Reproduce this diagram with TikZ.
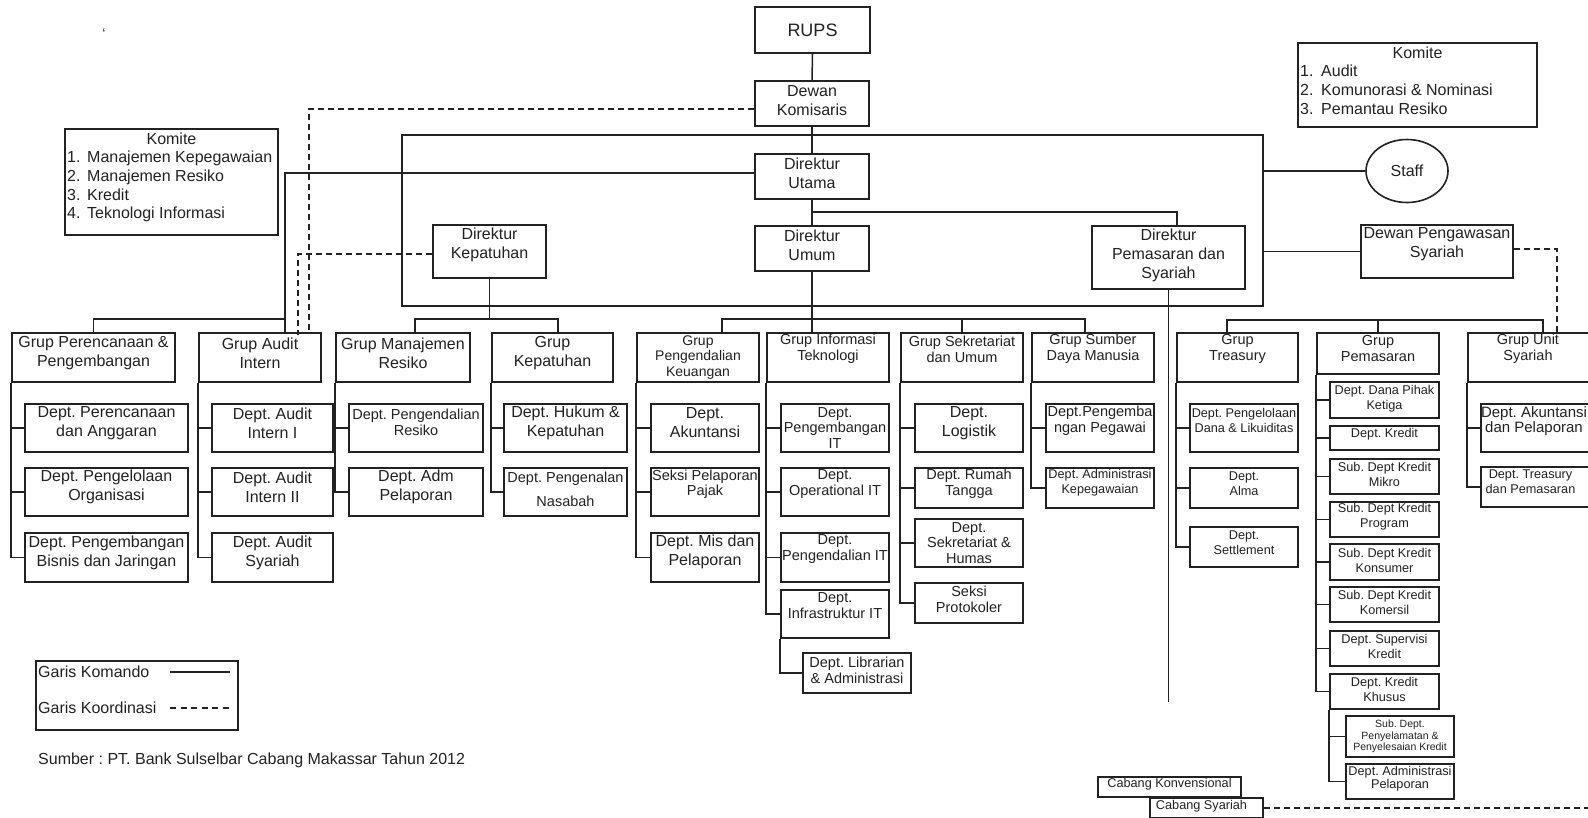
\documentclass[tikz,border=0pt]{standalone}
\usepackage{fontspec}
\setmainfont{Liberation Sans}
\usetikzlibrary{shapes.geometric}
\definecolor{ink}{HTML}{222222}
\newcommand\fsz[2]{\fontsize{#1}{#2}\selectfont}
\frenchspacing
\tikzset{
 box/.style={draw=ink, line width=1.6pt, inner sep=0pt, rectangle},
 txt/.style={align=center, inner sep=0pt, text=ink, font=\fsz{16}{19}},
 cn/.style={draw=ink, line width=1.5pt},
 co/.style={draw=ink, line width=1.5pt, dash pattern=on 6pt off 4pt},
 sm/.style={font=\fsz{14.5}{16}},
 xs/.style={font=\fsz{12.7}{15}},
 up/.style={yshift=#1pt},
}
\newcommand\bx[7][]{%
  \node[box, minimum width={(#5-#3)*1pt}, minimum height={(#6-#4)*1pt}] (#2) at ({(#3+#5)/2},{(#4+#6)/2}) {};
  \node[txt,#1] at (#2.center) {#7};
}
\begin{document}
\begin{tikzpicture}[x=1pt,y=-1pt]
\useasboundingbox (0,0) rectangle (1588,817);
\fill[white] (0,0) rectangle (1588,817);
\clip (0,0) rectangle (1588,817);

% helper coordinates
\coordinate (hbus) at (0,319);
\coordinate (hbr) at (0,320);
\coordinate (h212) at (0,212);
\coordinate (pend) at (0,702);
\coordinate (vA) at (285,0);
\coordinate (vB) at (309,0);
\coordinate (vC) at (298,0);
\coordinate (vD) at (1557,0);
\coordinate (rend) at (1588,0);

% top
\bx[font=\fsz{18}{21}]{rups}{755}{7}{870}{53}{RUPS}
\bx[up=3]{kom}{755}{81}{869}{126}{Dewan\\Komisaris}
\bx{frame}{402}{135}{1263}{306}{}
\bx[up=3]{utama}{755}{154}{869}{199}{Direktur\\Utama}
\bx[up=3]{umum}{755}{226}{869}{271}{Direktur\\Umum}
\bx[up=7]{kepat}{433}{225}{546}{278}{Direktur\\Kepatuhan}
\bx[up=2]{dirpem}{1092}{226}{1245}{289}{Direktur\\Pemasaran dan\\Syariah}
\bx[up=7.5]{dps}{1361}{225}{1513}{278}{Dewan Pengawasan\\Syariah}
\node[draw=ink, line width=1.6pt, ellipse, minimum width=82pt, minimum height=63pt, txt] (staff) at (1407,171) {Staff};

% komite boxes
\bx{komL}{65}{129}{278}{235}{}
\node[txt, anchor=base] (komLt) at (171.5,144) {Komite};
\foreach \n/\t [count=\i] in {1./Manajemen Kepegawaian, 2./Manajemen Resiko, 3./Kredit, 4./Teknologi Informasi}{
  \node[txt, anchor=base west] (kln\i) at (67,{144+\i*18.7}) {\n};
  \node[txt, anchor=base west] (klt\i) at (87,{144+\i*18.7}) {\t};
}
\bx{komR}{1298}{43}{1537}{127}{}
\node[txt, anchor=base] (komRt) at (1417.5,58) {Komite};
\foreach \n/\t [count=\i] in {1./Audit, 2./{Komunorasi \& Nominasi}, 3./Pemantau Resiko}{
  \node[txt, anchor=base west] (krn\i) at (1300,{58+\i*18.7}) {\n};
  \node[txt, anchor=base west] (krt\i) at (1321,{58+\i*18.7}) {\t};
}

% groups
\bx[up=4.5]{g1}{12}{333}{175}{382}{Grup Perencanaan \&\\Pengembangan}
\bx[up=4.5]{g2}{199}{333}{321}{382}{Grup Audit\\Intern}
\bx[up=4.5]{g3}{336}{333}{470}{382}{Grup Manajemen\\Resiko}
\bx[up=4.5]{g4}{492}{333}{613}{382}{Grup\\Kepatuhan}
\bx[font=\fsz{14}{15.5}]{g5}{637}{333}{759}{382}{Grup\\Pengendalian\\Keuangan}
\bx[up=8.5,sm]{g6}{767}{333}{889}{382}{Grup Informasi\\Teknologi}
\bx[up=8.5,sm]{g7}{901}{333}{1023}{382}{Grup Sekretariat\\dan Umum}
\bx[up=8.5,sm]{g8}{1032}{333}{1154}{382}{Grup Sumber\\Daya Manusia}
\bx[up=8.5,sm]{g9}{1177}{333}{1298}{382}{Grup\\Treasury}
\bx[up=4.5,sm]{g10}{1317}{333}{1439}{374}{Grup\\Pemasaran}
\bx[up=8.5,sm,xshift=-2pt]{g11}{1468}{333}{1592}{382}{Grup Unit\\Syariah}

% departments
\bx[up=5]{d11}{25}{404}{188}{452}{Dept. Perencanaan\\dan Anggaran}
\bx[up=5]{d12}{25}{468}{188}{516}{Dept. Pengelolaan\\Organisasi}
\bx[up=4.5]{d13}{25}{533}{188}{582}{Dept. Pengembangan\\Bisnis dan Jaringan}
\bx[up=5]{d21}{212}{404}{333}{452}{Dept. Audit\\Intern I}
\bx[up=5]{d22}{212}{468}{333}{516}{Dept. Audit\\Intern II}
\bx[up=4.5]{d23}{212}{533}{333}{582}{Dept. Audit\\Syariah}
\bx[up=6,sm]{d31}{349}{404}{483}{452}{Dept. Pengendalian\\Resiko}
\bx[up=5]{d32}{349}{468}{483}{516}{Dept. Adm\\Pelaporan}
\bx[up=5]{d41}{504}{404}{627}{452}{Dept. Hukum \&\\Kepatuhan}
\bx[up=3,font=\fsz{14.5}{24}]{d42}{504}{468}{627}{516}{Dept. Pengenalan\\Nasabah}
\bx[up=5]{d51}{651}{404}{759}{452}{Dept.\\Akuntansi}
\bx[up=8,font=\fsz{14.5}{15}]{d52}{651}{468}{759}{516}{Seksi Pelaporan\\Pajak}
\bx[up=5.5]{d53}{651}{533}{759}{582}{Dept. Mis dan\\Pelaporan}
\bx[font=\fsz{14.5}{15.5}]{d61}{781}{404}{889}{452}{Dept.\\Pengembangan\\IT}
\bx[up=8,sm]{d62}{781}{468}{889}{516}{Dept.\\Operational IT}
\bx[up=8.5,sm]{d63}{781}{533}{889}{582}{Dept.\\Pengendalian IT}
\bx[up=8,sm]{d64}{781}{590}{889}{638}{Dept.\\Infrastruktur IT}
\bx[up=3,sm]{d65}{803}{653}{911}{693}{Dept. Librarian\\\& Administrasi}
\bx[up=5]{d71}{915}{404}{1023}{452}{Dept.\\Logistik}
\bx[up=4,sm]{d72}{915}{468}{1023}{508}{Dept. Rumah\\Tangga}
\bx[font=\fsz{14.5}{15.5}]{d73}{915}{519}{1023}{567}{Dept.\\Sekretariat \&\\Humas}
\bx[up=4,sm]{d74}{915}{583}{1023}{623}{Seksi\\Protokoler}
\bx[up=7,sm]{d81}{1046}{404}{1154}{452}{Dept.Pengemba\\ngan Pegawai}
\bx[up=5.5,xs]{d82}{1046}{468}{1154}{508}{Dept. Administrasi\\Kepegawaian}
\bx[up=8,xs]{d91}{1190}{404}{1298}{452}{Dept. Pengelolaan\\Dana \& Likuiditas}
\bx[up=4,xs]{d92}{1190}{468}{1298}{508}{Dept.\\Alma}
\bx[up=4,xs]{d93}{1190}{527}{1298}{567}{Dept.\\Settlement}
\bx[up=1,xs]{p1}{1330}{382}{1439}{418}{Dept. Dana Pihak\\Ketiga}
\bx[up=3.5,xs]{p2}{1330}{426}{1439}{450}{Dept. Kredit}
\bx[up=2,xs]{p3}{1330}{459}{1439}{494}{Sub. Dept Kredit\\Mikro}
\bx[up=2.5,xs]{p4}{1330}{502}{1439}{537}{Sub. Dept Kredit\\Program}
\bx[up=2,xs]{p5}{1330}{544}{1439}{580}{Sub. Dept Kredit\\Konsumer}
\bx[up=2.5,xs]{p6}{1330}{587}{1439}{622}{Sub. Dept Kredit\\Komersil}
\bx[up=2.5,xs]{p7}{1330}{631}{1439}{666}{Dept. Supervisi\\Kredit}
\bx[up=2.5,xs]{p8}{1330}{674}{1439}{709}{Dept. Kredit\\Khusus}
\bx[font=\fsz{10.5}{11.7}]{p9}{1346}{716}{1454}{757}{Sub. Dept.\\Penyelamatan \&\\Penyelesaian Kredit}
\bx[up=3,font=\fsz{12.7}{13}]{p10}{1346}{764}{1454}{799}{Dept. Administrasi\\Pelaporan}
\bx[up=6.5,xshift=-2.5pt,font=\fsz{15}{15}]{u1}{1481}{404}{1592}{452}{Dept. Akuntansi\\dan Pelaporan}
\bx[up=5.5,xs,xshift=-6pt]{u2}{1481}{467}{1592}{507}{Dept. Treasury\\dan Pemasaran}

% cabang
\bx[up=3,xs]{cb1}{1098}{777}{1241}{797}{Cabang Konvensional}
\bx[up=2,xs,xshift=-5pt]{cb2}{1150}{798}{1263}{818}{Cabang Syariah}

% command lines (top)
\draw[cn] (rups.south) -- (kom.north);
\draw[cn] (kom.south) -- (utama.north);
\draw[cn] (utama.south) -- (umum.north);
\draw[cn] (utama.south |- h212) -| ([xshift=8.5pt]dirpem.north);
\draw[cn] (frame.east |- staff.west) -- (staff.west);
\draw[cn] (frame.east |- dps.west) -- (dps.west);
\draw[cn] (dirpem.south) -- (dirpem.south |- pend);

% Direktur Utama to groups
\coordinate (uw) at ([yshift=3.5pt]utama.west);
\draw[cn] (uw) -| (vA |- g2.north);
\draw[cn] (vA |- hbus) -| (g1.north);

% Direktur Kepatuhan to groups
\coordinate (c3) at ([xshift=12pt]g3.north);
\coordinate (c4) at ([xshift=5.5pt]g4.north);
\draw[cn] (kepat.south) -- (kepat.south |- hbus);
\draw[cn] (c3) |- (c4 |- hbus) -- (c4);

% Direktur Umum to groups
\coordinate (c5) at ([xshift=24pt]g5.north);
\coordinate (c8) at ([xshift=-8pt]g8.north);
\draw[cn] (umum.south) -- (umum.south |- g6.north);
\draw[cn] (c5) |- (c8 |- hbus) -- (c8);
\draw[cn] (g7.north) -- (g7.north |- hbus);

% right groups bus
\coordinate (c9) at ([xshift=-10.5pt]g9.north);
\coordinate (c11) at ([xshift=13pt]g11.north);
\draw[cn] (c9) |- (c11 |- hbr) -- (c11);
\draw[cn] (g10.north) -- (g10.north |- hbr);

% group to department lines
\foreach \d in {d11,d12,d13} \draw[cn] (g1.south west) |- (\d.west);
\foreach \d in {d21,d22,d23} \draw[cn] (g2.south west) |- (\d.west);
\foreach \d in {d31,d32} \draw[cn] (g3.south west) |- (\d.west);
\foreach \d in {d41,d42} \draw[cn] (g4.south west) |- (\d.west);
\foreach \d in {d51,d52,d53} \draw[cn] (g5.south west) |- (\d.west);
\foreach \d in {d61,d62,d63,d64} \draw[cn] (g6.south west) |- (\d.west);
\draw[cn] (d64.south west) |- (d65.west);
\foreach \d in {d71,d72,d73,d74} \draw[cn] (g7.south west) |- (\d.west);
\foreach \d in {d81,d82} \draw[cn] (g8.south west) |- (\d.west);
\foreach \d in {d91,d92,d93} \draw[cn] (g9.south west) |- (\d.west);
\foreach \d in {p1,p2,p3,p4,p5,p6,p7,p8} \draw[cn] (g10.south west) |- (\d.west);
\foreach \d in {p9,p10} \draw[cn] (p8.south west) |- (\d.west);
\foreach \d in {u1,u2} \draw[cn] (g11.south west) |- (\d.west);

% coordination lines
\coordinate (kw) at ([yshift=-5.5pt]kom.west);
\draw[co] (kw) -| (vB |- g2.north);
\coordinate (kpw) at ([yshift=-2.5pt]kepat.west);
\draw[co] (kpw) -| ([yshift=-3pt]vC |- g2.north);
\coordinate (dpe) at ([yshift=2.5pt]dps.east);
\draw[co] (dpe) -| (vD |- g11.north);
\draw[co] (cb2.east) -- (cb2.east -| rend);

% legend
\bx{leg}{36}{661}{238}{730}{}
\node[txt, anchor=base west] (lk1) at (38,677) {Garis Komando};
\node[txt, anchor=base west] (lk2) at (38,713) {Garis Koordinasi};
\coordinate (l1a) at (170,672);
\coordinate (l1b) at (230,672);
\coordinate (l2a) at (170,708);
\coordinate (l2b) at (232,708);
\draw[cn] (l1a) -- (l1b);
\draw[co, dash pattern=on 6pt off 4.5pt] (l2a) -- (l2b);
\node[txt, anchor=base west] (src) at (38,764) {Sumber : PT. Bank Sulselbar Cabang Makassar Tahun 2012};
\node[txt, font=\fsz{14}{14}] (tick) at (104,34) {`};
\end{tikzpicture}
\end{document}
